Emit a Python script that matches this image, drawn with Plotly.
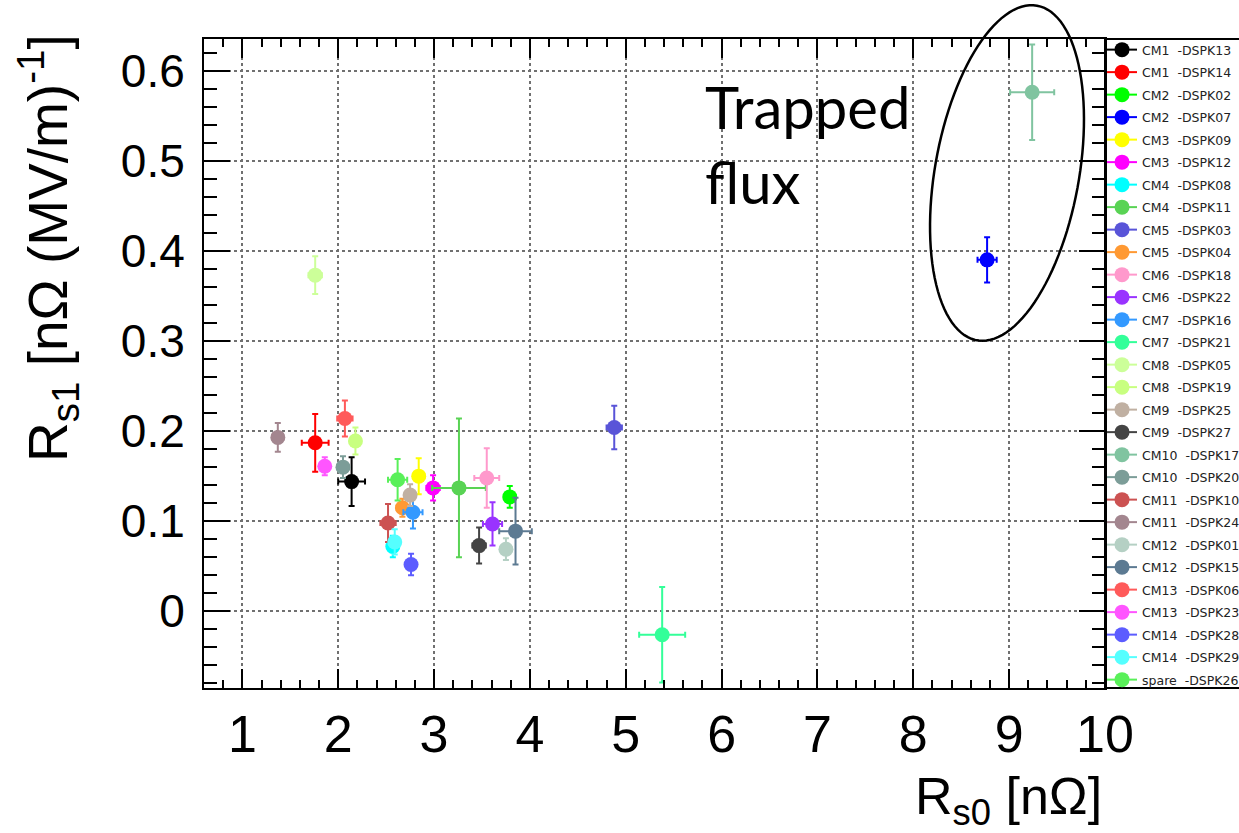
import numpy as np
import plotly.graph_objects as go

# ---------------- data ----------------
labels = ["CM1  -DSPK13", "CM1  -DSPK14", "CM2  -DSPK02", "CM2  -DSPK07",
          "CM3  -DSPK09", "CM3  -DSPK12", "CM4  -DSPK08", "CM4  -DSPK11",
          "CM5  -DSPK03", "CM5  -DSPK04", "CM6  -DSPK18", "CM6  -DSPK22",
          "CM7  -DSPK16", "CM7  -DSPK21", "CM8  -DSPK05", "CM8  -DSPK19",
          "CM9  -DSPK25", "CM9  -DSPK27", "CM10  -DSPK17", "CM10  -DSPK20",
          "CM11  -DSPK10", "CM11  -DSPK24", "CM12  -DSPK01", "CM12  -DSPK15",
          "CM13  -DSPK06", "CM13  -DSPK23", "CM14  -DSPK28", "CM14  -DSPK29",
          "spare  -DSPK26"]

rs0 = [2.14, 1.76, 3.79, 8.77, 2.84, 2.99, 2.57, 3.26, 4.88, 2.67,
       3.55, 3.61, 2.78, 5.38, 1.76, 2.18, 2.75, 3.47, 9.24, 2.05,
       2.52, 1.37, 3.75, 3.85, 2.07, 1.86, 2.76, 2.59, 2.62]
rs0_err = [0.14, 0.14, 0.06, 0.10, 0.06, 0.07, 0.05, 0.28, 0.08, 0.06,
           0.13, 0.10, 0.10, 0.24, 0.07, 0.05, 0.05, 0.07, 0.23, 0.06,
           0.08, 0.06, 0.06, 0.17, 0.08, 0.05, 0.05, 0.05, 0.10]
rs1 = [0.144, 0.187, 0.127, 0.390, 0.150, 0.137, 0.072, 0.137, 0.204, 0.115,
       0.148, 0.097, 0.110, -0.026, 0.373, 0.189, 0.129, 0.073, 0.576, 0.160,
       0.098, 0.193, 0.069, 0.089, 0.214, 0.161, 0.052, 0.077, 0.146]
rs1_err = [0.027, 0.032, 0.012, 0.025, 0.020, 0.014, 0.012, 0.077, 0.024, 0.010,
           0.033, 0.024, 0.018, 0.053, 0.021, 0.015, 0.012, 0.020, 0.053, 0.012,
           0.021, 0.016, 0.012, 0.037, 0.020, 0.010, 0.012, 0.014, 0.023]
colors = ["#000000", "#ff0000", "#00ff00", "#0000ff", "#ffff00", "#ff00ff",
          "#00ffff", "#59d354", "#5954d8", "#ff9933", "#ff99cc", "#9933ff",
          "#3399ff", "#33ff99", "#ccff99", "#c8ff80", "#c0b0a2", "#444444",
          "#80c4a0", "#7c9d98", "#cc5252", "#a3868f", "#b5d0c4", "#5c7a92",
          "#ff5a5a", "#ff55ff", "#5c5cff", "#55ffff", "#59f059"]

x_ticks = list(range(1, 11))
y_ticks = [0, 0.1, 0.2, 0.3, 0.4, 0.5, 0.6]
y_tick_text = ["0", "0.1", "0.2", "0.3", "0.4", "0.5", "0.6"]

FONT = "Liberation Sans, Arial, Helvetica, sans-serif"

# ---------------- figure ----------------
fig = go.Figure()
for i, name in enumerate(labels):
    c = colors[i]
    fig.add_trace(go.Scatter(
        x=[rs0[i]], y=[rs1[i]],
        mode="lines+markers",
        name=name.replace("  ", "\u00a0\u00a0"),
        legendgroup=f"g{i}",
        marker=dict(size=15, color=c, symbol="circle"),
        line=dict(color=c, width=2),
        error_x=dict(type="data", array=[rs0_err[i]], color=c, thickness=2, width=3),
        error_y=dict(type="data", array=[rs1_err[i]], color=c, thickness=2, width=3),
        cliponaxis=True,
    ))

W, H = 1239, 833
L, R, T, B = 204, 134, 39, 145
pw, ph = W - L - R, H - T - B


def to_paper(px, py):
    return (px - L) / pw, (H - B - py) / ph


# ellipse around "trapped flux" points (pixel geometry -> paper coords)
cx, cy = 1007, 173
u = np.array([60, -334]) / np.hypot(60, 334)
v = np.array([334, 60]) / np.hypot(60, 334)
a_len, b_len = 170, 72
t = np.linspace(0, 2 * np.pi, 120)
pts = [to_paper(cx + a_len * np.cos(tt) * u[0] + b_len * np.sin(tt) * v[0],
                cy + a_len * np.cos(tt) * u[1] + b_len * np.sin(tt) * v[1]) for tt in t]
path = "M " + " L ".join(f"{px:.5f},{py:.5f}" for px, py in pts) + " Z"

fig.add_shape(type="path", path=path, xref="paper", yref="paper",
              line=dict(color="black", width=2.5), fillcolor="rgba(0,0,0,0)")

# legend frame
fig.add_shape(type="rect", xref="paper", yref="paper",
              x0=1.0, x1=(W + 10 - L) / pw, y0=0, y1=1,
              line=dict(color="black", width=2), fillcolor="rgba(0,0,0,0)")

axis_common = dict(
    showline=True, linecolor="black", linewidth=2, mirror="allticks",
    ticks="inside", tickcolor="black", tickwidth=2,
    showgrid=True, gridcolor="#707070", griddash="dot", gridwidth=1.5,
    zeroline=False,
)

fig.update_xaxes(
    range=[0.6, 10], tickmode="array", tickvals=x_ticks,
    ticklen=19,
    minor=dict(ticks="inside", dtick=0.2, tick0=0, ticklen=8, tickwidth=2,
               tickcolor="black", showgrid=False),
    tickfont=dict(family=FONT, size=52, color="black"),
    **axis_common,
)
fig.update_yaxes(
    range=[-0.085, 0.635], tickmode="array", tickvals=y_ticks, ticktext=y_tick_text,
    ticklen=26,
    minor=dict(ticks="inside", dtick=0.02, tick0=0, ticklen=13, tickwidth=2,
               tickcolor="black", showgrid=False),
    tickfont=dict(family=FONT, size=46, color="black"),
    ticklabelstandoff=8,
    **axis_common,
)

fig.add_annotation(
    text="R<sub>s0</sub> [nΩ]", xref="paper", yref="paper",
    x=to_paper(1104, 0)[0], y=to_paper(0, 765)[1], xanchor="right", yanchor="top",
    showarrow=False, font=dict(family=FONT, size=52, color="black"),
)
fig.add_annotation(
    text="R<sub>s1</sub> [nΩ (MV/m)<sup>-1</sup>]", xref="paper", yref="paper",
    x=to_paper(48, 0)[0], y=to_paper(0, 32)[1], xanchor="center", yanchor="top",
    textangle=-90, showarrow=False, font=dict(family=FONT, size=55, color="black"),
)
fig.add_annotation(
    text="Trapped<br>flux", xref="paper", yref="paper",
    x=to_paper(703, 0)[0], y=to_paper(0, 70)[1], xanchor="left", yanchor="top",
    align="left", showarrow=False,
    font=dict(family="Lato, Liberation Sans, sans-serif", size=58, color="black"),
)

fig.update_layout(
    width=W, height=H, autosize=False,
    margin=dict(l=L, r=R, t=T, b=B, pad=0, autoexpand=False),
    plot_bgcolor="white", paper_bgcolor="white",
    showlegend=True,
    legend=dict(
        x=0.9967, y=1 + 4 / ph, xanchor="left", yanchor="top",
        bgcolor="rgba(0,0,0,0)", borderwidth=0,
        font=dict(family="DejaVu Sans, Liberation Sans, sans-serif", size=12.5,
                  color="#222222"),
        tracegroupgap=3.25, itemclick=False, maxheight=1,
    ),
)

fig.write_html("out.html")
